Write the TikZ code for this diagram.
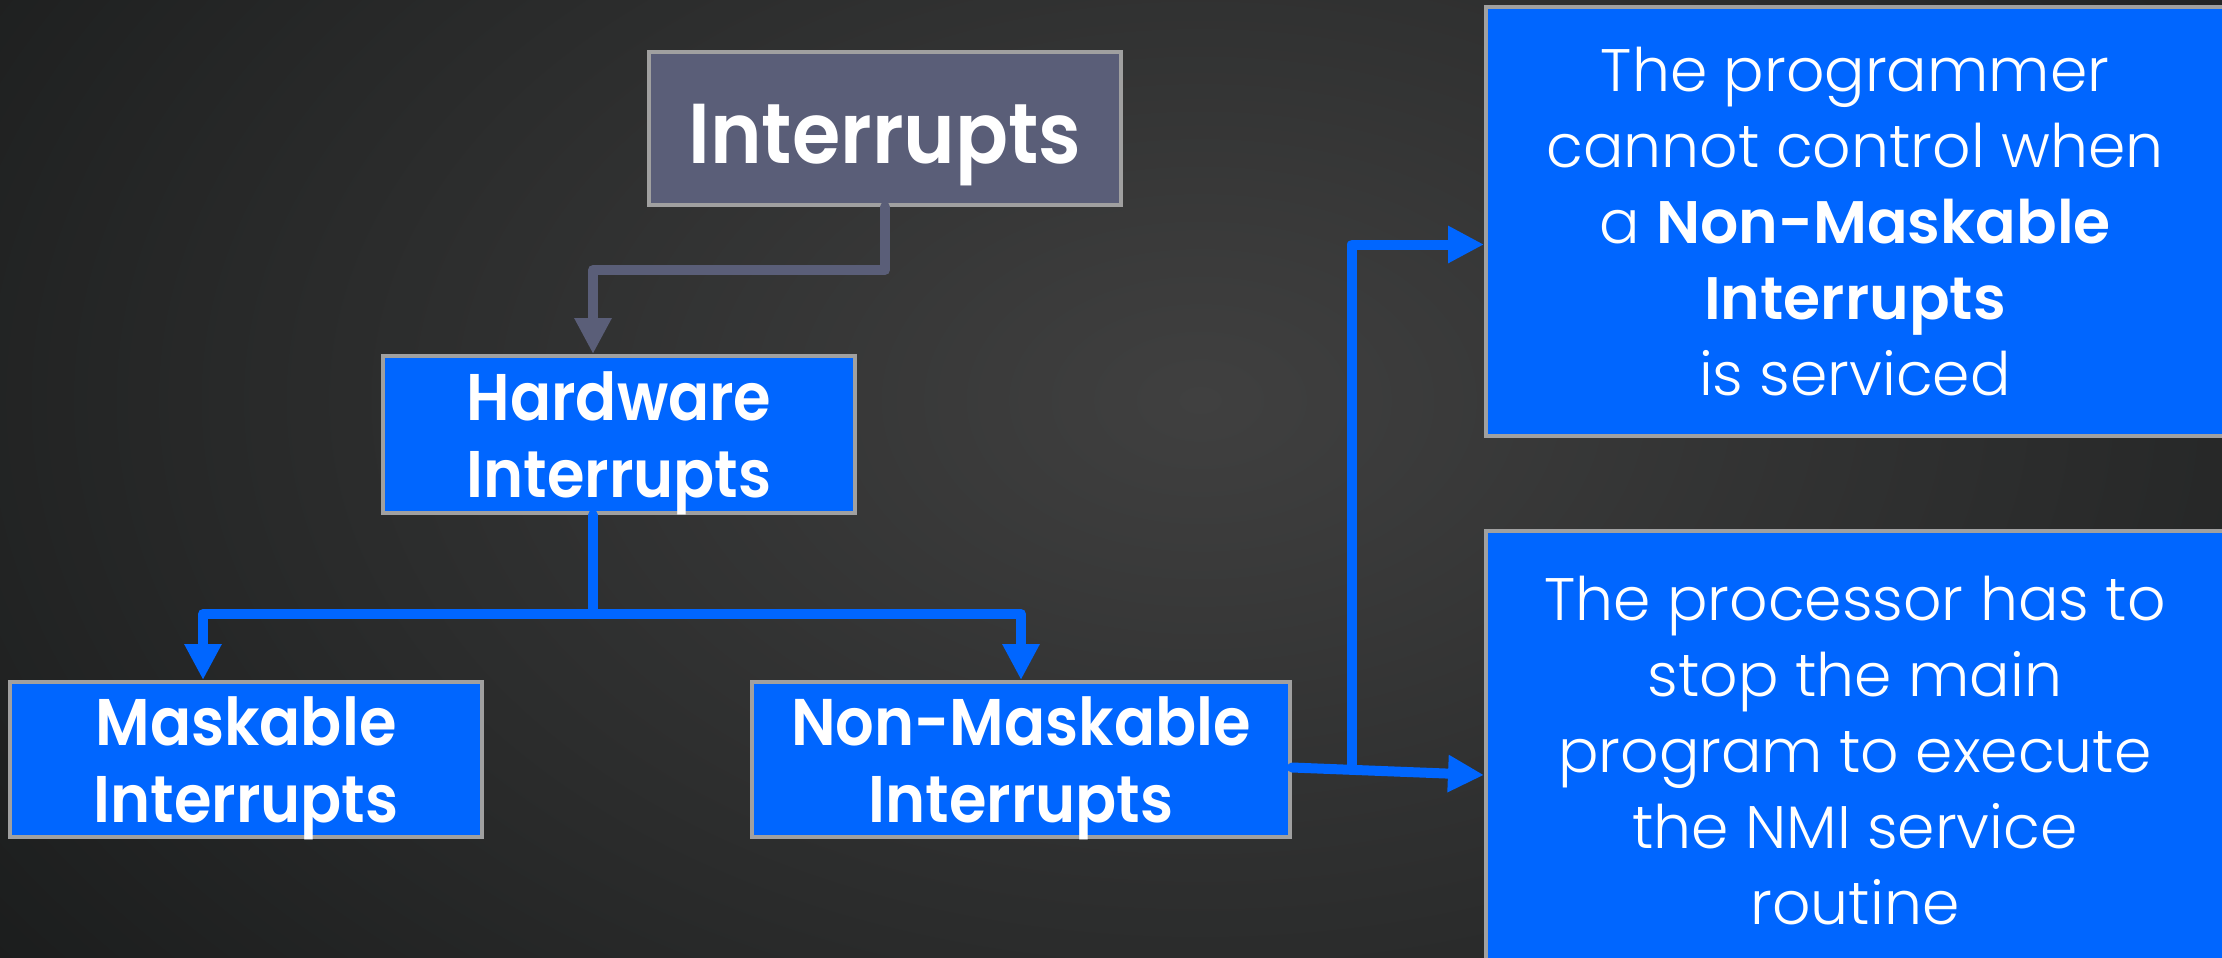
\documentclass[tikz,border=0pt]{standalone}
\usepackage{fontspec}
\setmainfont{Poppins}[UprightFont=* Light, BoldFont=* SemiBold]
\newfontfamily\labelfont{Poppins SemiBold}[FakeStretch=0.92]
\usetikzlibrary{calc,arrows.meta}
\definecolor{bgmid}{RGB}{64,64,64}
\definecolor{bgout}{RGB}{22,24,24}
\definecolor{boxblue}{RGB}{0,102,255}
\definecolor{slate}{RGB}{90,94,120}
\definecolor{edgegray}{RGB}{160,160,160}
\tikzset{
  box/.style={draw=edgegray, line width=2pt, fill=boxblue, text=white, align=center, inner sep=0pt},
  labelbox/.style={box, text depth=0pt, font=\fontsize{33}{38.5}\labelfont},
  textbox/.style={box, font=\fontsize{30}{38}\selectfont},
  conn/.style={line width=5pt, line join=round, line cap=round},
  tip/.style={-{Triangle[width=17.5pt,length=18pt]}},
}
\begin{document}
\begin{tikzpicture}[x=0.5pt,y=-0.5pt]
\useasboundingbox (0,0) rectangle (2222,958);
\begin{scope}
\clip (0,0) rectangle (2222,958);
\shade[inner color=bgmid, outer color=bgout] (-500,-700) rectangle (2900,1500);
\end{scope}

\node[box, fill=slate, minimum width=236pt, minimum height=76.5pt, text depth=0pt,
      font=\fontsize{42.5}{48}\labelfont] (int) at (885,128.5) {\raisebox{-5pt}{Interrupts}};
\node[labelbox, minimum width=236pt, minimum height=78.5pt] (hw) at (619,434.5) {Hardware\\Interrupts};
\node[labelbox, minimum width=236pt, minimum height=77.5pt] (mask) at (246,759.5) {Maskable\\Interrupts};
\node[labelbox, minimum width=269pt, minimum height=77.5pt] (nm) at (1021,759.5) {Non-Maskable\\Interrupts};
\node[textbox, minimum width=369pt, minimum height=214.5pt] (b1) at (1855,221.5)
  {The programmer\\cannot control when\\a \textbf{Non-Maskable}\\\textbf{Interrupts}\\is serviced};
\node[textbox, minimum width=369pt, minimum height=220pt] (b2) at (1855,751)
  {The processor has to\\stop the main\\program to execute\\the NMI service\\routine};

% grey connector
\draw[conn, slate, tip] (int.south) -- ++(0,63) -| ($(hw.north)+(-26,0)$);
% blue tree
\coordinate (bus) at ($(hw.south)+(-26,99)$);
\draw[conn, boxblue] ($(hw.south)+(-26,0)$) -- (bus);
\draw[conn, boxblue, tip] (bus) -| ($(mask.north)+(-43,0)$);
\draw[conn, boxblue, tip] (bus) -| (nm.north);
% right side
\coordinate (split) at ($(nm.east)+(60,6)$);
\draw[conn, boxblue, tip] ($(nm.east)+(0,8)$) -- ($(b2.west)+(0,24)$);
\draw[conn, boxblue, tip] (split) |- ($(b1.west)+(0,23)$);
\end{tikzpicture}
\end{document}
